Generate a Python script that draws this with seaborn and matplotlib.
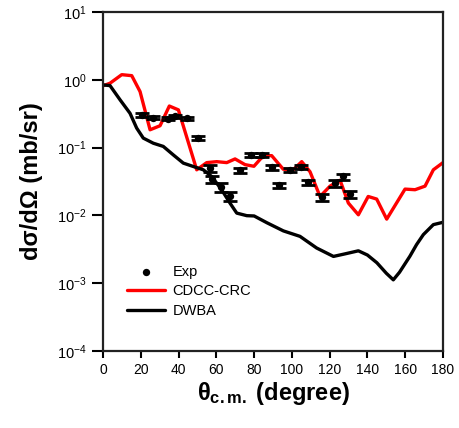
import numpy as np
import pandas as pd
import seaborn as sns
from matplotlib import pyplot as plt
from matplotlib.ticker import FixedLocator, FuncFormatter, NullLocator

# angles (deg) and cross sections (mb/sr)
cdcc_angle = [0, 3.7, 9.9, 15.2, 19.6, 24.9, 30.2, 35.1, 39.9, 49.6, 54.9, 60.2, 65.5, 69.9,
              75.2, 79.9, 84.9, 89.3, 95.4, 100.7, 105.2, 109.6, 114.9, 120.2, 125.5, 129.9,
              135.2, 140.4, 144.9, 150.2, 159.9, 165.2, 170.5, 174.9, 180]
cdcc_xs = [0.815, 0.89, 1.19, 1.15, 0.67, 0.183, 0.21, 0.41, 0.36, 0.047, 0.060, 0.062, 0.060,
           0.068, 0.056, 0.053, 0.076, 0.076, 0.048, 0.047, 0.062, 0.044, 0.019, 0.027, 0.033,
           0.0152, 0.0102, 0.019, 0.0174, 0.0088, 0.0244, 0.0239, 0.027, 0.047, 0.060]

dwba_angle = [0, 3.7, 9, 14.3, 17.8, 21.3, 26.6, 31.9, 37.2, 42.5, 47.8, 53.1, 57.5, 62.8,
              67.2, 70.8, 76.1, 80, 86.7, 95.5, 104.3, 113.1, 122, 128, 135.2, 140, 145,
              150, 153.7, 157, 162.5, 166, 169.6, 174.9, 180]
dwba_xs = [0.84, 0.82, 0.507, 0.32, 0.194, 0.138, 0.116, 0.104, 0.078, 0.059, 0.0526, 0.047,
           0.0375, 0.0239, 0.0152, 0.0108, 0.0099, 0.0098, 0.0078, 0.0059, 0.0049, 0.0033,
           0.00248, 0.0027, 0.0030, 0.0026, 0.0020, 0.0014, 0.00112, 0.00145, 0.0025, 0.0037,
           0.0052, 0.0073, 0.0079]

exp_angle = [20.5, 26.6, 34.6, 38.1, 44.3, 50.3, 56.6, 57.8, 62.2, 67.2, 72.5, 78.3, 84.0,
             89.3, 93.2, 99.0, 104.8, 108.5, 115.8, 122.8, 127.2, 131.0]
exp_xs = [0.30, 0.275, 0.266, 0.288, 0.272, 0.138, 0.050, 0.034, 0.026, 0.019, 0.046, 0.078,
          0.078, 0.0515, 0.028, 0.047, 0.052, 0.031, 0.0186, 0.030, 0.0375, 0.0206]
exp_relerr = [0.07, 0.05, 0.05, 0.05, 0.05, 0.07, 0.12, 0.13, 0.15, 0.15, 0.08, 0.08, 0.08,
              0.08, 0.08, 0.08, 0.08, 0.08, 0.12, 0.12, 0.10, 0.12]

sns.set_style("ticks")
plt.rcParams['font.family'] = ['Liberation Sans', 'DejaVu Sans']
plt.rcParams['mathtext.fontset'] = 'custom'
plt.rcParams['mathtext.rm'] = 'Liberation Sans'
plt.rcParams['mathtext.it'] = 'Liberation Sans:italic'
plt.rcParams['mathtext.bf'] = 'Liberation Sans:bold'
for k in ['text.color', 'axes.labelcolor', 'xtick.color', 'ytick.color']:
    plt.rcParams[k] = 'black'

fig = plt.figure(figsize=(4.6, 4.28), dpi=100)
ax = fig.add_axes([0.224, 0.180, 0.739, 0.792])

df_exp = pd.DataFrame({'angle': exp_angle, 'xs': exp_xs})
err = np.array(exp_xs) * np.array(exp_relerr)
ax.errorbar(exp_angle, exp_xs, yerr=err, fmt='none', ecolor='black', elinewidth=1.5,
            capsize=4.8, capthick=2, zorder=3)
sns.scatterplot(data=df_exp, x='angle', y='xs', color='black', s=28, edgecolor='black',
                linewidth=0, ax=ax, label='Exp', zorder=4)
sns.lineplot(x=cdcc_angle, y=cdcc_xs, color='#ff0000', linewidth=2.4, ax=ax,
             label='CDCC-CRC', sort=False, solid_joinstyle='round')
sns.lineplot(x=dwba_angle, y=dwba_xs, color='black', linewidth=2.4, ax=ax,
             label='DWBA', sort=False, solid_joinstyle='round')

ax.set_yscale('log')
ax.set_xlim(0, 180)
ax.set_ylim(1e-4, 1e1)
ax.set_xticks(range(0, 181, 20))
ax.yaxis.set_major_locator(FixedLocator([1e-4, 1e-3, 1e-2, 1e-1, 1e0, 1e1]))
ax.yaxis.set_minor_locator(NullLocator())
ax.yaxis.set_major_formatter(FuncFormatter(lambda v, p: '$10^{%d}$' % round(np.log10(v))))
ax.tick_params(axis='x', labelsize=10, length=5, width=1.5, direction='out')
ax.tick_params(axis='y', labelsize=10.5, length=8, width=1.5, direction='out', pad=4)
for s in ax.spines.values():
    s.set_linewidth(1.6)
    s.set_color('#222222')

ax.set_xlabel(r'$\mathbf{\theta_{c.m.}}$ (degree)', fontsize=17, fontweight='bold', labelpad=2)
ax.set_ylabel('dσ/dΩ (mb/sr)', fontsize=17, fontweight='bold', labelpad=10)

leg = ax.legend(loc='lower left', bbox_to_anchor=(0.05, 0.075), frameon=False, fontsize=10.5,
                handlelength=2.6, handletextpad=0.5, borderpad=0, labelspacing=0.4)

fig.savefig('out.png', dpi=100)
